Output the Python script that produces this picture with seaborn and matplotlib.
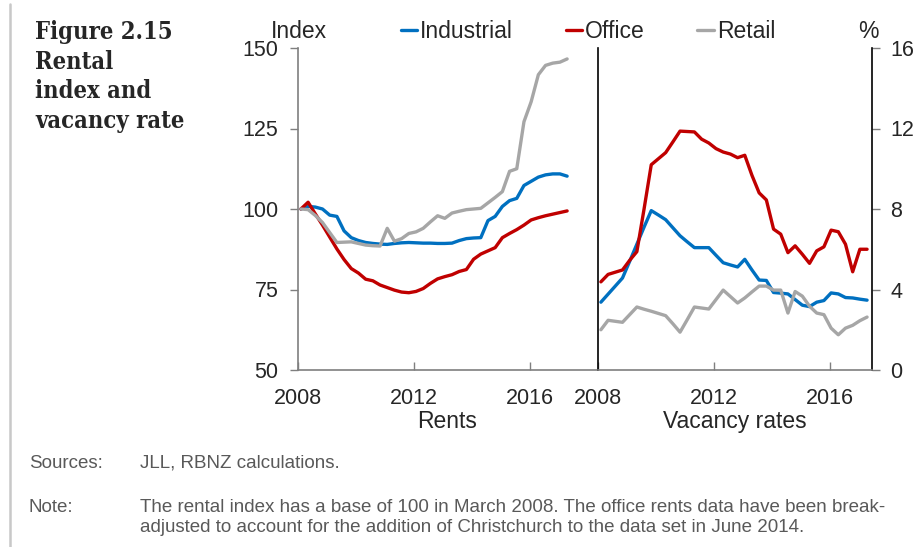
import numpy as np
import pandas as pd
import matplotlib
matplotlib.use("Agg")
import matplotlib.pyplot as plt
import seaborn as sns
from matplotlib.lines import Line2D

# ---- data (quarterly, 2008Q1 .. 2017Q2) ----
quarters = [f"{y}Q{q}" for y in range(2008, 2018) for q in range(1, 5)][:38]
quarter_pos = np.linspace(2008.1, 2017.28, len(quarters))

rent_industrial = [100.0, 100.8, 100.6, 100.0, 98.1, 97.7, 93.2, 91.1, 90.2, 89.6,
                   89.3, 89.1, 89.0, 89.3, 89.5, 89.6, 89.5, 89.4, 89.4, 89.3,
                   89.3, 89.4, 90.2, 90.8, 91.0, 91.1, 96.4, 97.7, 100.8, 102.6,
                   103.3, 107.3, 108.6, 109.9, 110.6, 110.9, 110.9, 110.2]
rent_office = [100.0, 102.1, 98.5, 95.0, 91.3, 87.6, 84.3, 81.5, 80.1, 78.2,
               77.7, 76.4, 75.6, 74.8, 74.2, 74.0, 74.4, 75.3, 76.9, 78.3,
               79.0, 79.6, 80.6, 81.2, 84.4, 86.0, 87.0, 88.0, 91.1, 92.4,
               93.6, 95.0, 96.6, 97.3, 97.9, 98.4, 98.9, 99.4]
rent_retail = [100.0, 99.8, 98.0, 95.8, 92.7, 89.6, 89.7, 89.8, 89.3, 88.8,
               88.6, 88.5, 94.0, 90.0, 90.8, 92.4, 92.9, 94.0, 96.0, 97.9,
               97.1, 98.75, 99.3, 99.8, 100.0, 100.2, 101.9, 103.6, 105.4, 111.7,
               112.5, 127.1, 133.3, 141.7, 144.6, 145.3, 145.6, 146.6]

vac_industrial = [3.37, 3.77, 4.17, 4.57, 5.4, 6.25, 7.1, 7.92, 7.7, 7.47,
                  7.07, 6.67, 6.37, 6.08, 6.08, 6.08, 5.7, 5.33, 5.22, 5.12,
                  5.5, 4.97, 4.47, 4.45, 3.85, 3.82, 3.78, 3.5, 3.22, 3.15,
                  3.37, 3.45, 3.83, 3.78, 3.6, 3.58, 3.52, 3.47]
vac_office = [4.38, 4.75, 4.86, 4.97, 5.45, 5.88, 8.0, 10.2, 10.5, 10.8,
              11.33, 11.87, 11.85, 11.83, 11.47, 11.28, 11.0, 10.83, 10.73, 10.55,
              10.67, 9.67, 8.8, 8.45, 7.0, 6.75, 5.83, 6.17, 5.75, 5.3,
              5.92, 6.12, 6.95, 6.87, 6.25, 4.88, 6.0, 6.0]
vac_retail = [2.0, 2.47, 2.42, 2.37, 2.75, 3.13, 3.02, 2.92, 2.81, 2.7,
              2.3, 1.88, 2.5, 3.13, 3.08, 3.03, 3.5, 3.97, 3.65, 3.33,
              3.58, 3.88, 4.17, 4.17, 3.97, 3.97, 2.83, 3.9, 3.67, 3.17,
              2.83, 2.75, 2.08, 1.75, 2.08, 2.22, 2.45, 2.63]

series_names = ["Industrial", "Office", "Retail"]
colors = {"Industrial": "#0070C0", "Office": "#C00000", "Retail": "#A6A6A6"}
x_ticks = [2008, 2012, 2016]
rent_ticks = [50, 75, 100, 125, 150]
vac_ticks = [0, 4, 8, 12, 16]

rents = pd.DataFrame({"t": np.tile(quarter_pos, 3),
                      "value": rent_industrial + rent_office + rent_retail,
                      "sector": np.repeat(series_names, len(quarters))})
vac = pd.DataFrame({"t": np.tile(quarter_pos, 3),
                    "value": vac_industrial + vac_office + vac_retail,
                    "sector": np.repeat(series_names, len(quarters))})

# ---- styling ----
sns.set_style("white")
plt.rcParams["font.family"] = ["Liberation Sans", "DejaVu Sans"]

W, H = 923, 547
fig = plt.figure(figsize=(W / 100, H / 100), dpi=100)

def fx(px):
    return px / W

def fy(py):
    return 1 - py / H

ax1 = fig.add_axes([fx(298), fy(370), fx(597) - fx(298), fy(48) - fy(370)])
ax2 = fig.add_axes([fx(598), fy(370), fx(872) - fx(598), fy(48) - fy(370)])

lw = 2.4
sns.lineplot(data=rents, x="t", y="value", hue="sector", palette=colors,
             hue_order=series_names, ax=ax1, linewidth=lw, legend=False)
sns.lineplot(data=vac, x="t", y="value", hue="sector", palette=colors,
             hue_order=series_names, ax=ax2, linewidth=lw, legend=False)

fs = 15.5   # tick labels
fl = 16.5   # labels / legend

ax1.set_xlim(2008, 2018.31)
ax1.set_ylim(50, 150)
ax1.set_yticks(rent_ticks)
ax1.set_xticks(x_ticks)
ax1.set_xlabel("Rents", fontsize=fl, labelpad=1)
ax1.set_ylabel("")
for s in ["top", "right"]:
    ax1.spines[s].set_visible(False)
for s in ["left", "bottom"]:
    ax1.spines[s].set_color("#7f7f7f")
    ax1.spines[s].set_linewidth(1.2)
ax1.tick_params(axis="y", direction="out", length=6, width=1, color="#7f7f7f",
                labelsize=fs, pad=8, left=True)
ax1.tick_params(axis="x", direction="in", length=6, width=1, color="#7f7f7f",
                labelsize=fs, pad=13, bottom=True)

ax2.set_xlim(2008, 2017.45)
ax2.set_ylim(0, 16)
ax2.set_yticks(vac_ticks)
ax2.set_xticks(x_ticks)
ax2.set_xlabel("Vacancy rates", fontsize=fl, labelpad=1)
ax2.set_ylabel("")
ax2.yaxis.tick_right()
ax2.spines["top"].set_visible(False)
ax2.spines["left"].set_color("black")
ax2.spines["left"].set_linewidth(1.2)
ax2.spines["right"].set_color("black")
ax2.spines["right"].set_linewidth(1.2)
ax2.spines["bottom"].set_color("#7f7f7f")
ax2.spines["bottom"].set_linewidth(1.2)
ax2.tick_params(axis="y", direction="out", length=6, width=1, color="#7f7f7f",
                labelsize=fs, pad=7, right=True, left=False)
ax2.tick_params(axis="x", direction="in", length=6, width=1, color="#7f7f7f",
                labelsize=fs, pad=13, bottom=True)

for ax in (ax1, ax2):
    ax.patch.set_alpha(0)
    ax.grid(False)

# axis unit labels
fig.text(fx(299), fy(32), "Index", fontsize=fl, ha="center", va="center")
fig.text(fx(868), fy(32), "%", fontsize=fl, ha="center", va="center")

# legend
handles = [Line2D([], [], color=colors[n], lw=lw) for n in series_names]
leg = fig.legend(handles, series_names, loc="center",
                 bbox_to_anchor=(fx(588), fy(32)), ncol=3, frameon=False,
                 fontsize=fl, handlelength=0.72, handletextpad=0.12,
                 columnspacing=2.3, borderpad=0)

# title block
fig.text(fx(35), fy(20), "Figure 2.15\nRental\nindex and\nvacancy rate",
         fontsize=17, fontweight="bold", family="DejaVu Serif",
         fontstretch="condensed", ha="left", va="top", linespacing=1.3)

# footer
foot_col = "#595959"
ffs = 13.5
fig.text(fx(29), fy(463), "Sources:", fontsize=ffs, color=foot_col, va="center")
fig.text(fx(140), fy(463), "JLL, RBNZ calculations.", fontsize=ffs,
         color=foot_col, va="center")
fig.text(fx(29), fy(508), "Note:", fontsize=ffs, color=foot_col, va="center")
fig.text(fx(140), fy(508),
         "The rental index has a base of 100 in March 2008. The office rents data have been break-",
         fontsize=ffs, color=foot_col, va="center")
fig.text(fx(140), fy(527),
         "adjusted to account for the addition of Christchurch to the data set in June 2014.",
         fontsize=ffs, color=foot_col, va="center")

# left frame border
fig.add_artist(Line2D([fx(10), fx(10)], [0, fy(4)], color="#c8c8c8", lw=1.8,
                      transform=fig.transFigure))

fig.savefig("out.png", dpi=100)
